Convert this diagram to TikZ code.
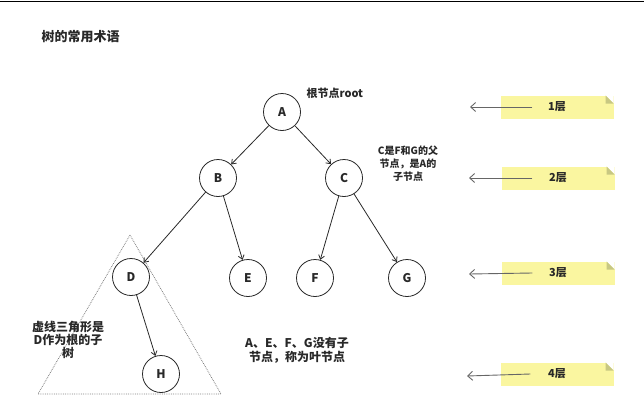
\documentclass[tikz,border=0pt]{standalone}
\usepackage{fontspec}
\newfontfamily\cjk{Noto Sans CJK SC}
\usetikzlibrary{arrows.meta, positioning}

\definecolor{noteyellow}{RGB}{250,246,160}
\definecolor{notefold}{RGB}{200,200,130}
\definecolor{inkgrey}{RGB}{40,40,40}

\tikzset{
    treenode/.style={circle, draw=inkgrey, line width=0.8pt, minimum size=37pt, inner sep=0pt,
        text=inkgrey, font=\cjk\bfseries\fontsize{12}{14}\selectfont},
    treeedge/.style={draw=inkgrey, line width=0.8pt, -{Straight Barb[length=4pt,width=6pt]}},
    remark/.style={align=center, text=inkgrey, font=\cjk\bfseries\fontsize{11}{13}\selectfont},
    levelnote/.style={fill=noteyellow, minimum width=113pt, minimum height=23pt, inner sep=0pt,
        text=inkgrey, font=\cjk\bfseries\fontsize{11}{13}\selectfont,
        path picture={
            % folded corner top right
            \fill[white] ([xshift=-8pt]path picture bounding box.north east) -- (path picture bounding box.north east)
                -- ([yshift=-8pt]path picture bounding box.north east) -- cycle;
            \fill[notefold] ([xshift=-8pt]path picture bounding box.north east) -- ([xshift=-8pt,yshift=-8pt]path picture bounding box.north east)
                -- ([yshift=-8pt]path picture bounding box.north east) -- cycle;
        }},
    levelarrow/.style={draw=gray!80!black, line width=0.9pt, -{Straight Barb[length=5pt,width=9pt]}}
}

\begin{document}
\begin{tikzpicture}[x=1pt, y=-1pt]
    % Page frame and top rule
    \useasboundingbox (0,0) rectangle (644,415);
    \draw[line width=1.5pt] (0,1.5) -- (644,1.5);

    % Title
    \node[anchor=west, text=inkgrey, font=\cjk\bfseries\fontsize{13}{15}\selectfont] (title) at (38,37) {树的常用术语};

    % Dotted triangle round the subtree of D
    \draw[gray, line width=0.8pt, densely dotted] (130,235) -- (221,394) -- (38,394) -- cycle;

    % Tree nodes
    \node[treenode] (A) at (282,112) {A};
    \node[treenode] (B) at (218,178) {B};
    \node[treenode] (C) at (344,178) {C};
    \node[treenode] (D) at (131,277) {D};
    \node[treenode] (E) at (248,278) {E};
    \node[treenode] (F) at (315,278) {F};
    \node[treenode] (G) at (407,278) {G};
    \node[treenode] (H) at (161,374) {H};

    % Parent -> child edges
    \draw[treeedge] (A) -- (B);
    \draw[treeedge] (A) -- (C);
    \draw[treeedge] (B) -- (D);
    \draw[treeedge] (B) -- (E);
    \draw[treeedge] (C) -- (F);
    \draw[treeedge] (C) -- (G);
    \draw[treeedge] (D) -- (H);

    % Remarks
    \node[remark, anchor=west] (rootnote) at (303,93) {根节点root};
    \node[remark, font=\cjk\bfseries\fontsize{10}{13}\selectfont] (cnote) at (408,164) {C是F和G的父\\节点，是A的\\子节点};
    \node[remark, font=\cjk\bfseries\fontsize{12}{13}\selectfont] (subtreenote) at (68,340) {虚线三角形是\\D作为根的子\\树};
    \node[remark, font=\cjk\bfseries\fontsize{12}{14}\selectfont] (leafnote) at (297,350) {A、E、F、G没有子\\节点，称为叶节点};

    % Level notes with arrows
    \node[levelnote] (L1) at (557,107) {1层};
    \node[levelnote] (L2) at (558,178) {2层};
    \node[levelnote] (L3) at (558,273) {3层};
    \node[levelnote] (L4) at (557,374) {4层};

    \coordinate (L1end) at (470,107);
    \coordinate (L2end) at (469,178);
    \coordinate (L3end) at (469,274);
    \coordinate (L4end) at (467,376);

    \draw[levelarrow] ([xshift=32pt]L1.west) -- (L1end);
    \draw[levelarrow] ([xshift=31pt]L2.west) -- (L2end);
    \draw[levelarrow] ([xshift=31pt]L3.west) -- (L3end);
    \draw[levelarrow] ([xshift=30pt]L4.west) -- (L4end);
\end{tikzpicture}
\end{document}
